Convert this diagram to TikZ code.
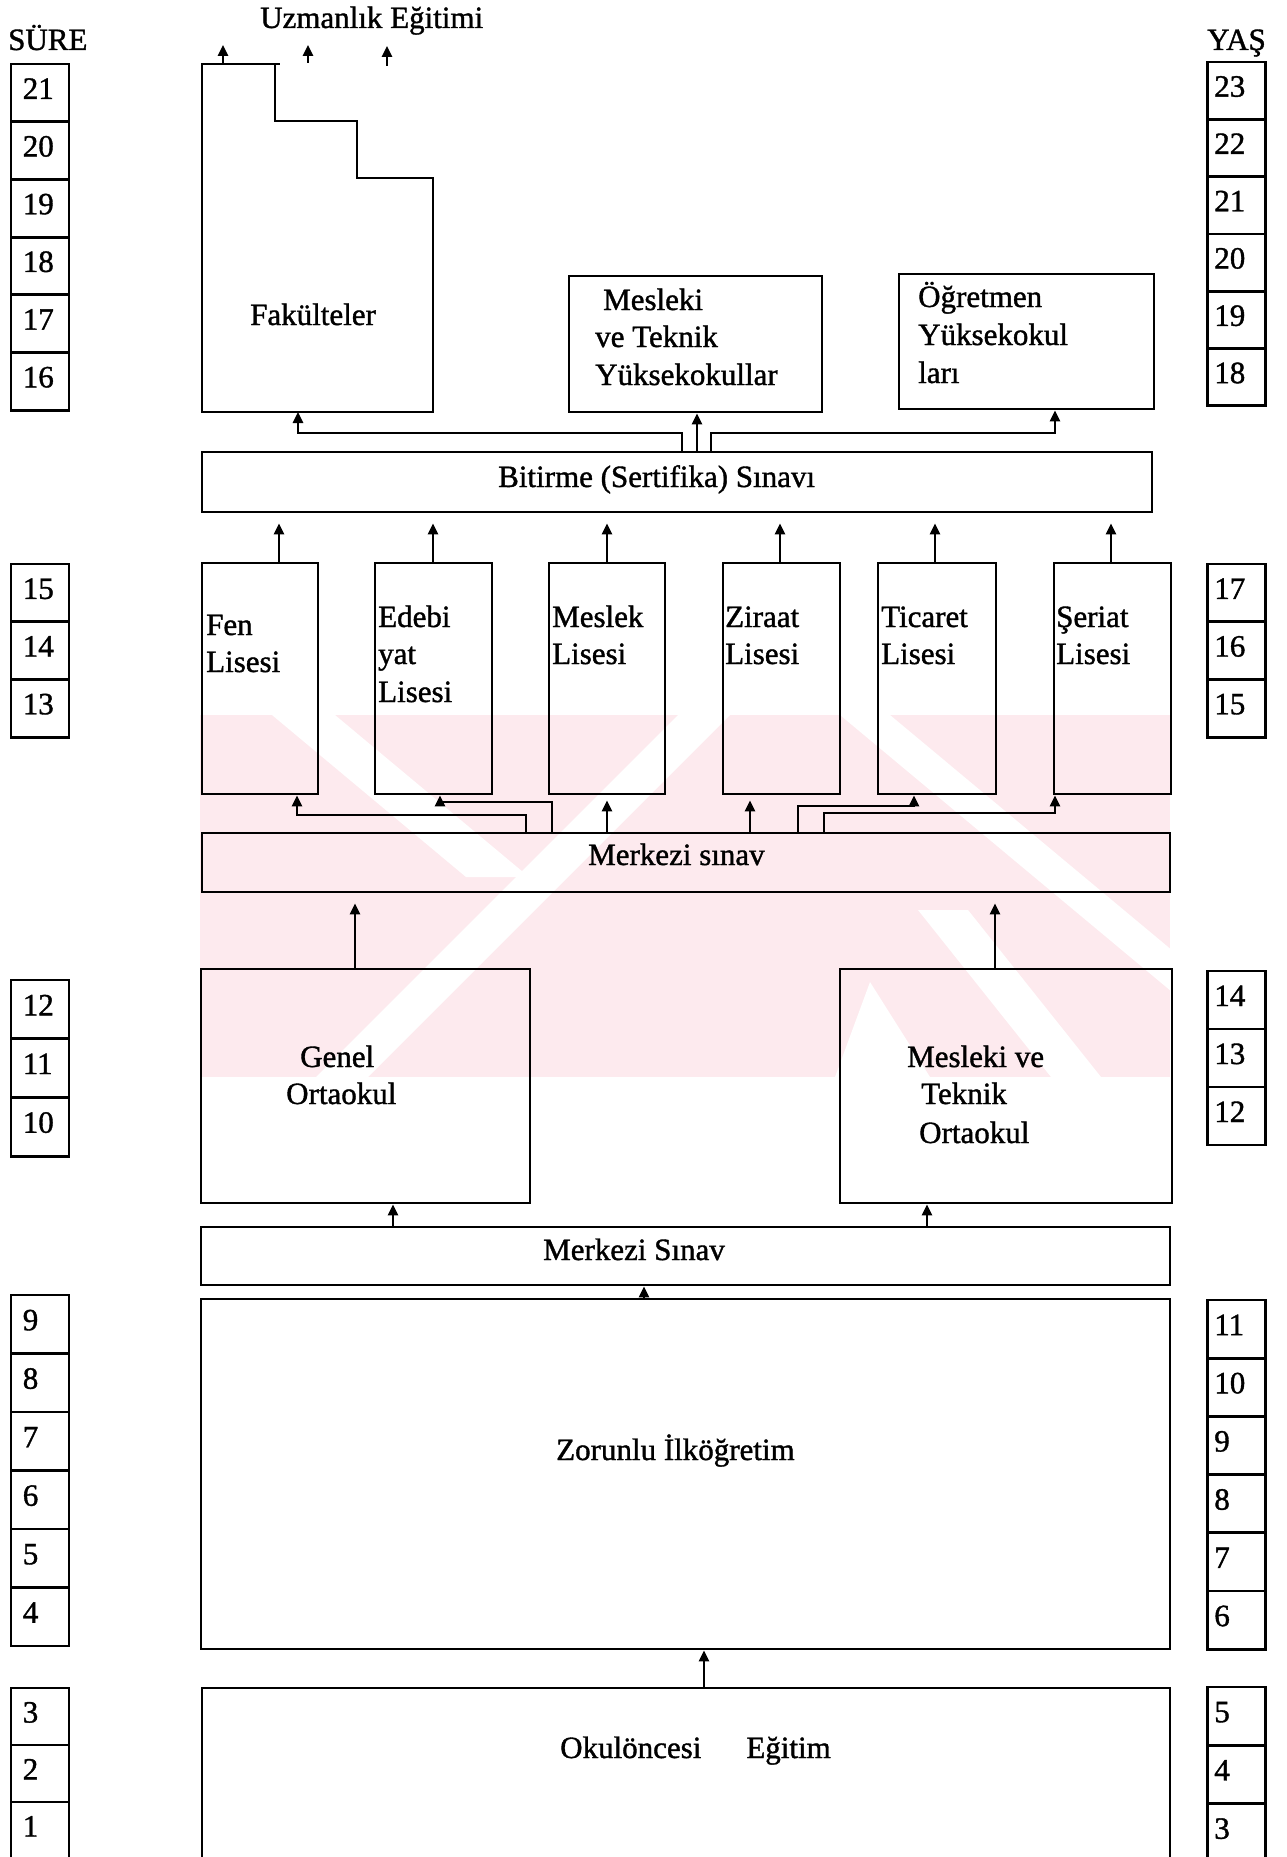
\documentclass[tikz,border=0pt]{standalone}
\usepackage{fontspec}
\setmainfont{Liberation Serif}[FakeBold=1.2]
\usetikzlibrary{arrows.meta,calc}
\definecolor{wm}{RGB}{253,234,238}
\newcommand\cellgroup[6]{%
  \foreach \n [count=\i from 0] in {#5} {
    \node[cell, minimum height=#4pt] (#1\n) at (#2, {#3+#4*\i+#4/2}) {};
    \node[num] (#1t\n) at ($(#1\n.west)+(#6,6)$) {\n};
  }}
\begin{document}
\begin{tikzpicture}[x=1pt,y=-1pt,
  every node/.style={font=\fontsize{31}{37}\selectfont},
  box/.style={draw, line width=2.8pt, rectangle, inner sep=0pt},
  cell/.style={draw, line width=2.8pt, rectangle, minimum width=58pt, inner sep=0pt},
  num/.style={anchor=base west, inner sep=0pt},
  txt/.style={anchor=base west, inner sep=0pt},
  arr/.style={line width=2.5pt, -{Triangle[length=11pt,width=10pt]}}
]
\useasboundingbox (0,0) rectangle (1286,1857);

% watermark
\begin{scope}
  \clip (200,715) rectangle (1170,1077);
  \fill[wm] (200,715) rectangle (1170,1077);
  \fill[white] (272,715) -- (335,715) -- (529,877) -- (466,877) -- cycle;
  \fill[white] (678,715) -- (730,715) -- (368,1077) -- (316,1077) -- cycle;
  \fill[white] (840,715) -- (890,715) -- (1324,1077) -- (1274,1077) -- cycle;
  \fill[white] (870,982) -- (930,1077) -- (835,1077) -- cycle;
  \fill[white] (918,910) -- (968,910) -- (1101,1077) -- (1051,1077) -- cycle;
\end{scope}

% side columns
\node[txt] (sure) at (8,50) {SÜRE};
\node[txt] (yas) at (1207,50) {YAŞ};
\cellgroup{s}{40}{64}{57.7}{21,20,19,18,17,16}{13}
\cellgroup{s}{40}{564}{57.7}{15,14,13}{13}
\cellgroup{s}{40}{980}{58.7}{12,11,10}{13}
\cellgroup{s}{40}{1295}{58.5}{9,8,7,6,5,4}{13}
\cellgroup{s}{40}{1688}{57}{3,2,1}{13}
\cellgroup{y}{1236.5}{62}{57.3}{23,22,21,20,19,18}{8}
\cellgroup{y}{1236.5}{564}{57.7}{17,16,15}{8}
\cellgroup{y}{1236.5}{971}{58}{14,13,12}{8}
\cellgroup{y}{1236.5}{1300}{58.2}{11,10,9,8,7,6}{8}
\cellgroup{y}{1236.5}{1687}{58.3}{5,4,3}{8}

% Fakülteler
\draw[line width=2.8pt] (202,64) -- (275,64) -- (275,121) -- (357,121) -- (357,178)
  -- (433,178) -- (433,412) -- (202,412) -- cycle;
\draw[line width=2.8pt] (275,64) -- (280,64);
\coordinate (faktop) at (223,64);
\coordinate (fakbot) at (298,412);
\coordinate (up1) at (223,45);
\coordinate (up2s) at (308,63);
\coordinate (up2e) at (308,45);
\coordinate (up3s) at (387,66);
\coordinate (up3e) at (387,46);
\node[txt] (uzm) at (260,28) {Uzmanlık Eğitimi};
\node[txt] (fak) at (250,325) {Fakülteler};
\draw[arr] (faktop) -- (up1);
\draw[arr] (up2s) -- (up2e);
\draw[arr] (up3s) -- (up3e);

% higher schools
\node[box, minimum width=253pt, minimum height=136pt] (mesyo) at (695.5,344) {};
\node[txt] (mesyo1) at (603,310) {Mesleki};
\node[txt] (mesyo2) at (595,347) {ve Teknik};
\node[txt] (mesyo3) at (595,385) {Yüksekokullar};
\node[box, minimum width=255pt, minimum height=135pt] (ogr) at (1026.5,341.5) {};
\node[txt] (ogr1) at (918,307) {Öğretmen};
\node[txt] (ogr2) at (918,345) {Yüksekokul};
\node[txt] (ogr3) at (918,383) {ları};

% Bitirme
\node[box, minimum width=950pt, minimum height=60pt] (bit) at (677,482) {};
\node[txt] (bitt) at (498,487) {Bitirme (Sertifika) Sınavı};
\draw[arr] (bit.north -| 682,0) -- (682,433) -| (fakbot);
\draw[arr] (bit.north -| 697,0) -- (mesyo.south -| 697,0);
\draw[arr] (bit.north -| 711,0) -- (711,433) -| (ogr.south -| 1055,0);

% lises
\node[box, minimum width=116pt, minimum height=231pt] (fen) at (260,678.5) {};
\node[box, minimum width=117pt, minimum height=231pt] (edb) at (433.5,678.5) {};
\node[box, minimum width=116pt, minimum height=231pt] (mes) at (607,678.5) {};
\node[box, minimum width=117pt, minimum height=231pt] (zir) at (781.5,678.5) {};
\node[box, minimum width=118pt, minimum height=231pt] (tic) at (937,678.5) {};
\node[box, minimum width=117pt, minimum height=231pt] (ser) at (1112.5,678.5) {};
\node[txt] (fen1) at (206,635) {Fen};
\node[txt] (fen2) at (206,672) {Lisesi};
\node[txt] (edb1) at (378,627) {Edebi};
\node[txt] (edb2) at (378,664) {yat};
\node[txt] (edb3) at (378,702) {Lisesi};
\node[txt] (mes1) at (552,627) {Meslek};
\node[txt] (mes2) at (552,664) {Lisesi};
\node[txt] (zir1) at (725,627) {Ziraat};
\node[txt] (zir2) at (725,664) {Lisesi};
\node[txt] (tic1) at (881,627) {Ticaret};
\node[txt] (tic2) at (881,664) {Lisesi};
\node[txt] (ser1) at (1056,627) {Şeriat};
\node[txt] (ser2) at (1056,664) {Lisesi};
\foreach \nm/\xx in {fen/279,edb/433,mes/607,zir/780,tic/935,ser/1111}
  \draw[arr, shorten >=10pt] (\nm.north -| \xx,0) -- (bit.south -| \xx,0);

% Merkezi sınav
\node[box, minimum width=968pt, minimum height=59pt] (ms1) at (686,862.5) {};
\node[txt] (ms1t) at (588,865) {Merkezi sınav};
\draw[arr] (ms1.north -| 526,0) -- (526,815) -| (fen.south -| 297,0);
\draw[arr] (ms1.north -| 552,0) -- (552,802) -| (edb.south -| 440,0);
\draw[arr, shorten >=5pt] (ms1.north -| 607,0) -- (mes.south -| 607,0);
\draw[arr, shorten >=5pt] (ms1.north -| 750,0) -- (zir.south -| 750,0);
\draw[arr] (ms1.north -| 798,0) -- (798,806) -| (tic.south -| 914,0);
\draw[arr] (ms1.north -| 824,0) -- (824,813) -| (ser.south -| 1055,0);

% Ortaokul
\node[box, minimum width=329pt, minimum height=234pt] (gen) at (365.5,1086) {};
\node[txt] (gen1) at (300,1067) {Genel};
\node[txt] (gen2) at (286,1104) {Ortaokul};
\node[box, minimum width=332pt, minimum height=234pt] (mto) at (1006,1086) {};
\node[txt] (mto1) at (907,1067) {Mesleki ve};
\node[txt] (mto2) at (921,1104) {Teknik};
\node[txt] (mto3) at (919,1143) {Ortaokul};
\draw[arr, shorten >=10pt] (gen.north -| 355,0) -- (ms1.south -| 355,0);
\draw[arr, shorten >=10pt] (mto.north -| 995,0) -- (ms1.south -| 995,0);

% Merkezi Sınav 2
\node[box, minimum width=969pt, minimum height=58pt] (ms2) at (685.5,1256) {};
\node[txt] (ms2t) at (543,1260) {Merkezi Sınav};
\draw[arr] (ms2.north -| 393,0) -- (gen.south -| 393,0);
\draw[arr] (ms2.north -| 927,0) -- (mto.south -| 927,0);

% Zorunlu
\node[box, minimum width=969pt, minimum height=350pt] (zor) at (685.5,1474) {};
\node[txt] (zort) at (556,1460) {Zorunlu İlköğretim};
\draw[arr] (zor.north -| 644,0) -- (ms2.south -| 644,0);

% Okulöncesi
\node[box, minimum width=968pt, minimum height=190pt] (oku) at (686,1783) {};
\node[txt] (okut) at (560,1758) {Okulöncesi\hspace{45pt}Eğitim};
\draw[arr] (oku.north -| 704,0) -- (zor.south -| 704,0);
\end{tikzpicture}
\end{document}
